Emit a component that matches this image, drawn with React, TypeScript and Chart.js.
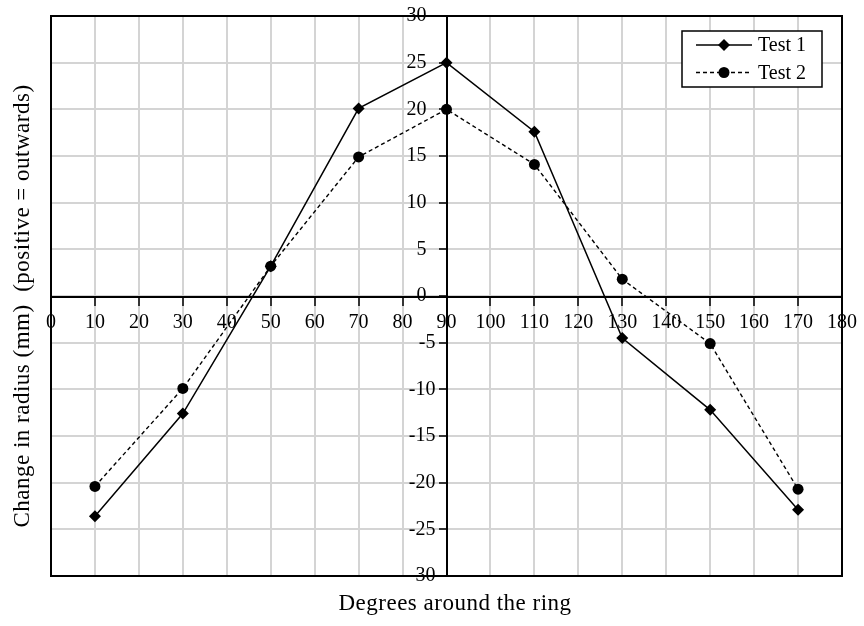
import React, { useEffect, useRef } from "react";
import { Chart, registerables } from "chart.js";

Chart.register(...registerables);

// Measurement positions around the ring (degrees)
const degrees = [10, 30, 50, 70, 90, 110, 130, 150, 170];
// Change in radius (mm), positive = outwards
const test1 = [-23.6, -12.6, 3.2, 20.1, 25.0, 17.6, -4.5, -12.2, -22.9];
const test2 = [-20.4, -9.9, 3.2, 14.9, 20.0, 14.1, 1.8, -5.1, -20.7];
const seriesNames = ["Test 1", "Test 2"];

const xTitle = "Degrees around the ring";
const yTitle = "Change in radius (mm)  (positive = outwards)";

const SERIF = "'Liberation Serif', 'Times New Roman', Times, serif";

const toPoints = (ys: number[]) => degrees.map((x, i) => ({ x, y: ys[i] }));

// y labels use a number format that pads non-negative values on the right
const yLabel = (v: number) => (v >= 0 ? `${v} \u2009` : `${v}`);

// Frame, axis titles and the boxed legend drawn on top of the chart
const decorations = {
  id: "decorations",
  afterDraw(chart: any) {
    const { ctx, chartArea } = chart;
    const { left, top, right, bottom } = chartArea;
    ctx.save();

    // plot frame
    ctx.strokeStyle = "#000";
    ctx.lineWidth = 2;
    ctx.strokeRect(left, top, right - left, bottom - top);

    // axis titles
    ctx.fillStyle = "#000";
    ctx.font = `23px ${SERIF}`;
    (ctx as any).letterSpacing = "0.5px";
    ctx.textAlign = "center";
    ctx.textBaseline = "middle";
    ctx.fillText(xTitle, 455, 604);
    ctx.save();
    ctx.translate(23, 306);
    ctx.rotate(-Math.PI / 2);
    ctx.fillText(yTitle, 0, 0);
    ctx.restore();
    (ctx as any).letterSpacing = "0px";

    // legend
    const bx = 682, by = 31, bw = 140, bh = 56;
    ctx.fillStyle = "#fff";
    ctx.fillRect(bx, by, bw, bh);
    ctx.strokeStyle = "#000";
    ctx.lineWidth = 1.5;
    ctx.strokeRect(bx, by, bw, bh);

    const rows = [45, 72.5];
    rows.forEach((ry, i) => {
      ctx.strokeStyle = "#000";
      ctx.lineWidth = 1.4;
      ctx.setLineDash(i === 0 ? [] : [4, 3]);
      ctx.beginPath();
      ctx.moveTo(696, ry);
      ctx.lineTo(752, ry);
      ctx.stroke();
      ctx.setLineDash([]);
      ctx.fillStyle = "#000";
      ctx.beginPath();
      if (i === 0) {
        ctx.moveTo(724, ry - 6);
        ctx.lineTo(730, ry);
        ctx.lineTo(724, ry + 6);
        ctx.lineTo(718, ry);
        ctx.closePath();
      } else {
        ctx.arc(724, ry, 5.5, 0, Math.PI * 2);
      }
      ctx.fill();
      ctx.font = `20px ${SERIF}`;
      ctx.textAlign = "left";
      ctx.textBaseline = "middle";
      ctx.fillText(seriesNames[i], 758, ry + 1);
    });

    ctx.restore();
  },
};

export default function App() {
  const canvasRef = useRef<HTMLCanvasElement | null>(null);

  useEffect(() => {
    if (!canvasRef.current) return;
    const chart = new Chart(canvasRef.current, {
      type: "line",
      data: {
        datasets: [
          {
            label: seriesNames[0],
            data: toPoints(test1),
            borderColor: "#000",
            backgroundColor: "#000",
            borderWidth: 1.5,
            pointStyle: "rectRot",
            pointRadius: 6,
            pointBorderWidth: 0,
            pointBackgroundColor: "#000",
            tension: 0,
          },
          {
            label: seriesNames[1],
            data: toPoints(test2),
            borderColor: "#000",
            backgroundColor: "#000",
            borderWidth: 1.4,
            borderDash: [4, 3],
            pointStyle: "circle",
            pointRadius: 5.5,
            pointBorderWidth: 0,
            pointBackgroundColor: "#000",
            tension: 0,
          },
        ],
      },
      options: {
        animation: false,
        responsive: true,
        maintainAspectRatio: false,
        layout: { padding: { left: 51, top: 15, right: 22, bottom: 50 } },
        plugins: {
          legend: { display: false },
          tooltip: { enabled: false },
        },
        scales: {
          // x axis crosses at y = 0, the middle of the y range
          x: {
            type: "linear",
            min: 0,
            max: 180,
            position: "center",
            ticks: {
              stepSize: 10,
              autoSkip: false,
              maxRotation: 0,
              color: "#000",
              font: { family: SERIF, size: 20 },
              padding: 7,
              callback: (v: any) => String(v),
            },
            grid: {
              color: "#d4d4d4",
              lineWidth: 2,
              drawTicks: true,
              tickLength: 8,
              tickColor: "#000",
              tickWidth: 1.5,
            },
            border: { display: true, color: "#000", width: 2 },
          },
          // y axis crosses at x = 90, the middle of the x range
          y: {
            type: "linear",
            min: -30,
            max: 30,
            position: "center",
            ticks: {
              stepSize: 5,
              autoSkip: false,
              color: "#000",
              font: { family: SERIF, size: 20 },
              padding: 4,
              callback: (v: any) => yLabel(Number(v)),
            },
            grid: {
              color: "#d4d4d4",
              lineWidth: 2,
              drawTicks: true,
              tickLength: 7,
              tickColor: "#000",
              tickWidth: 1.5,
            },
            border: { display: true, color: "#000", width: 2 },
          },
        },
      },
      plugins: [decorations],
    });
    return () => chart.destroy();
  }, []);

  return (
    <div
      style={{
        position: "fixed",
        left: 0,
        top: 0,
        width: 864,
        height: 626,
        background: "#fff",
      }}
    >
      <canvas ref={canvasRef} />
    </div>
  );
}
